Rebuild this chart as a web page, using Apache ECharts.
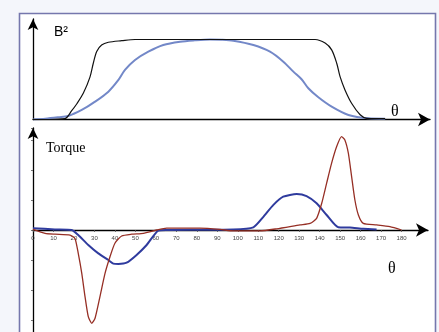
<!DOCTYPE html>
<html>
<head>
<meta charset="utf-8">
<script src="https://cdn.jsdelivr.net/npm/echarts@6/dist/echarts.min.js"></script>
<style>
html,body{margin:0;padding:0;background:#f4f6fb;}
#c{width:439px;height:332px;}
</style>
</head>
<body>
<div id="c"></div>
<script>
// ---- Top chart: B² vs θ ----
const b2BlackTheta = [0, 8, 15.6, 18.9, 21.5, 24.6, 27.8, 29.4, 31.1, 33.5, 36.8, 43.3, 49.8, 70, 90, 110, 137.7, 142.6, 145.8, 148.3, 149.9, 152.3, 155.6, 159.7, 162.9, 167, 171.9];
const b2BlackValue = [0, 0, 0.01, 0.11, 0.2, 0.33, 0.53, 0.7, 0.85, 0.93, 0.965, 0.985, 1.0, 1.0, 1.0, 1.0, 1.0, 0.955, 0.87, 0.7, 0.535, 0.37, 0.2, 0.06, 0.015, 0.012, 0.012];
const b2BlueTheta = [0, 6, 12.4, 17.2, 23.8, 30.3, 36.8, 41.7, 44.9, 49.8, 56.3, 63.6, 71.8, 79, 86.4, 92, 97.8, 107.6, 115.7, 122.2, 127.1, 131.2, 134.4, 139.3, 145.8, 154.0, 163.7, 171.9];
const b2BlueValue = [0, 0.01, 0.028, 0.044, 0.119, 0.223, 0.348, 0.494, 0.619, 0.744, 0.848, 0.931, 0.973, 0.99, 1.0, 0.997, 0.985, 0.931, 0.848, 0.723, 0.598, 0.5, 0.39, 0.277, 0.16, 0.056, 0.015, 0.01];

// ---- Bottom chart: Torque vs θ ----
const torqueRedTheta = [0, 5.9, 10.7, 18.1, 20.5, 22.1, 23.8, 25.4, 27.0, 28.7, 30.3, 32.7, 35.2, 37.6, 40.0, 43.3, 48.2, 53.9, 60.4, 65.3, 81.5, 91.3, 97.8, 110.8, 119, 130.4, 135.3, 138.5, 141, 143.4, 145.8, 148.3, 150.7, 152.3, 154, 155.6, 157.2, 158.9, 161.3, 167.8, 174.3, 180];
const torqueRedValue = [0.02, -0.11, -0.14, -0.17, -0.28, -0.78, -1.44, -2.22, -2.89, -3.11, -2.94, -2.22, -1.44, -0.89, -0.44, -0.2, -0.14, -0.11, 0, 0.06, 0.06, 0.02, -0.03, -0.03, 0.04, 0.17, 0.22, 0.39, 0.89, 1.56, 2.22, 2.78, 3.11, 3.0, 2.56, 1.78, 1.0, 0.5, 0.22, 0.17, 0.11, 0];
const torqueBlueTheta = [0, 10.7, 18.9, 22.1, 27, 31.9, 36.8, 39.2, 41.7, 45.7, 50.6, 55.5, 61.2, 65.3, 97.8, 107.6, 112.5, 117.3, 122.2, 128.8, 133.6, 138.5, 143.4, 149.1, 154.8, 161.3, 167.8];
const torqueBlueValue = [0.06, 0.02, 0, -0.17, -0.5, -0.78, -1.0, -1.12, -1.13, -1.09, -0.83, -0.5, -0.02, 0, 0.02, 0.09, 0.44, 0.83, 1.11, 1.2, 1.13, 0.89, 0.5, 0.09, 0.08, 0.04, 0.02];
const thetaTicks = [0, 10, 20, 30, 40, 50, 60, 70, 80, 90, 100, 110, 120, 130, 140, 150, 160, 170, 180];

function pairs(xs, ys) { return xs.map((x, i) => [x, ys[i]]); }

const chart = echarts.init(document.getElementById('c'), null, {renderer: 'canvas'});
const axisBlack = {color: '#000', width: 1.3};

chart.setOption({
  animation: false,
  backgroundColor: 'transparent',
  graphic: [
    {type: 'rect', z: -10, shape: {x: 19.5, y: 13.5, width: 416, height: 330},
     style: {fill: '#ffffff', stroke: '#7577ad', lineWidth: 1.6}},
    {type: 'text', left: 54, top: 25, z: 10,
     style: {text: 'B²', font: '14px "Liberation Sans", Arial, sans-serif', fill: '#000'}},
    {type: 'text', left: 391, top: 104, z: 10,
     style: {text: 'θ', font: '16px "Liberation Serif", "Times New Roman", serif', fill: '#000'}},
    {type: 'text', left: 46, top: 141, z: 10,
     style: {text: 'Torque', font: '14px "Liberation Serif", "Times New Roman", serif', fill: '#000'}},
    {type: 'text', left: 388, top: 261, z: 10,
     style: {text: 'θ', font: '16px "Liberation Serif", "Times New Roman", serif', fill: '#000'}}
  ],
  grid: [
    {left: 33, right: 9, top: 19, height: 100.5, outerBoundsMode: 'none'},
    {left: 33, right: 11, top: 128, height: 222, outerBoundsMode: 'none'}
  ],
  xAxis: [
    {gridIndex: 0, type: 'value', min: 0, max: 193.8,
     axisLine: {show: true, lineStyle: axisBlack, symbol: ['none', 'arrow'], symbolSize: [10, 12]},
     axisTick: {show: false}, axisLabel: {show: false}, splitLine: {show: false}},
    {gridIndex: 1, type: 'value', min: 0, max: 192.9, offset: -120,
     axisLine: {show: true, onZero: false, lineStyle: axisBlack, symbol: ['none', 'arrow'], symbolSize: [10, 12]},
     axisTick: {show: true, length: 2, customValues: thetaTicks, lineStyle: {color: '#555', width: 0.8}},
     axisLabel: {show: true, customValues: thetaTicks, fontSize: 6, color: '#444', margin: 5,
                 fontFamily: '"Liberation Sans", Arial, sans-serif'},
     splitLine: {show: false}}
  ],
  yAxis: [
    {gridIndex: 0, type: 'value', min: 0, max: 1.256,
     axisLine: {show: true, lineStyle: axisBlack, symbol: ['none', 'arrow'], symbolSize: [8, 11]},
     axisTick: {show: false}, axisLabel: {show: false}, splitLine: {show: false}},
    {gridIndex: 1, type: 'value', min: -4, max: 3.4, interval: 1,
     axisLine: {show: true, onZero: false, lineStyle: axisBlack, symbol: ['none', 'arrow'], symbolSize: [8, 11]},
     axisTick: {show: true, length: 2, lineStyle: {color: '#555', width: 0.8}},
     axisLabel: {show: false}, splitLine: {show: false}}
  ],
  series: [
    {type: 'line', xAxisIndex: 0, yAxisIndex: 0, data: pairs(b2BlueTheta, b2BlueValue),
     showSymbol: false, smooth: 0.3, lineStyle: {color: '#7388c8', width: 2}},
    {type: 'line', xAxisIndex: 0, yAxisIndex: 0, data: pairs(b2BlackTheta, b2BlackValue),
     showSymbol: false, smooth: 0.3, lineStyle: {color: '#111', width: 1.2}},
    {type: 'line', xAxisIndex: 1, yAxisIndex: 1, data: pairs(torqueBlueTheta, torqueBlueValue),
     showSymbol: false, smooth: 0.2, lineStyle: {color: '#2f3b9e', width: 2}},
    {type: 'line', xAxisIndex: 1, yAxisIndex: 1, data: pairs(torqueRedTheta, torqueRedValue),
     showSymbol: false, smooth: 0.2, lineStyle: {color: '#962f25', width: 1.3}}
  ]
});
</script>
</body>
</html>
